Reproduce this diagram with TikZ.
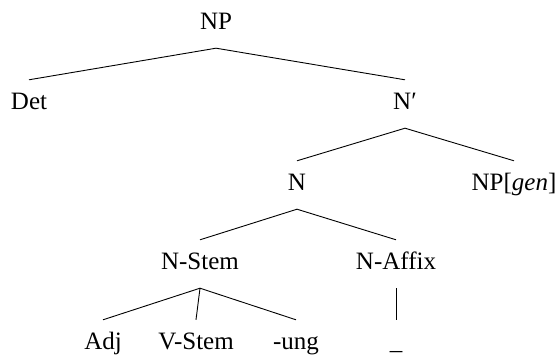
\documentclass[tikz,border=0pt]{standalone}
\usepackage{fontspec}
\setmainfont{Liberation Serif}
\begin{document}
\begin{tikzpicture}[x=1pt,y=-1pt,
  lab/.style={inner sep=0pt, text height=16pt, text depth=5pt, minimum height=48pt,
    font=\fontsize{25}{30}\selectfont},
  edge/.style={line width=0.9pt, black}]
\useasboundingbox (0,0) rectangle (559,355);
\node[lab] (NP) at (216,24) {NP};
\node[lab] (Det) at (29,104) {Det};
\node[lab] (Nbar) at (405,104) {N′};
\node[lab] (N) at (297,185) {N};
\node[lab] (NPgen) at (514,185) {NP[\textit{gen}]};
\node[lab] (NStem) at (200,264) {N-Stem};
\node[lab] (NAffix) at (396,264) {N-Affix};
\node[lab] (Adj) at (103,344) {Adj};
\node[lab] (VStem) at (196,344) {V-Stem};
\node[lab] (ung) at (296,344) {-ung};
\node[lab] (blank) at (396,344) {\_};
\draw[edge] (Det.north) -- (NP.south) -- (Nbar.north);
\draw[edge] (N.north) -- (Nbar.south) -- (NPgen.north);
\draw[edge] (NStem.north) -- (N.south) -- (NAffix.north);
\draw[edge] (Adj.north) -- (NStem.south) -- (ung.north);
\draw[edge] (NStem.south) -- (VStem.north);
\draw[edge] (NAffix.south) -- (blank.north);
\end{tikzpicture}
\end{document}
